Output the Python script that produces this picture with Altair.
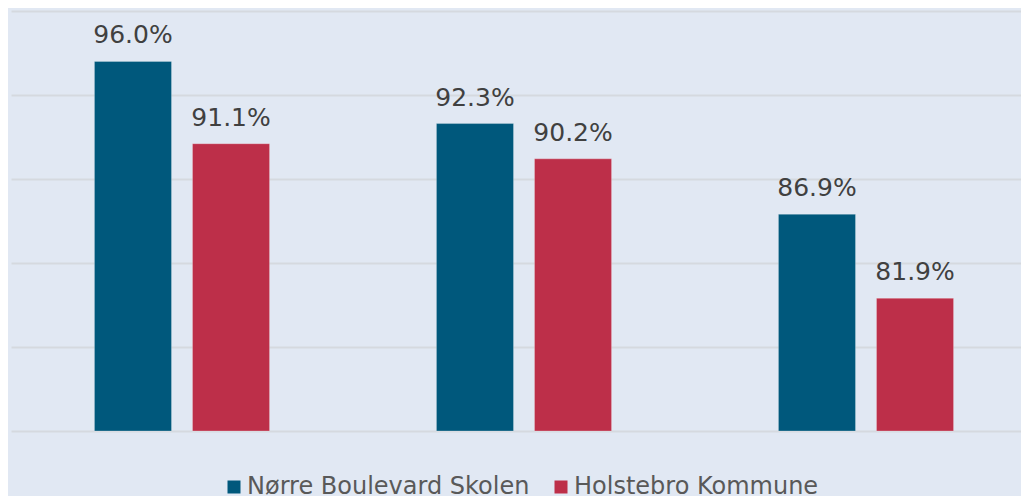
import altair as alt
import pandas as pd

groups = ["Gruppe 1", "Gruppe 2", "Gruppe 3"]
series = ["Nørre Boulevard Skolen", "Holstebro Kommune"]
school = [96.0, 92.3, 86.9]
kommune = [91.1, 90.2, 81.9]
colors = ["#00587C", "#BD2F49"]

rows = []
for g, a, b in zip(groups, school, kommune):
    rows.append({"group": g, "series": series[0], "value": a, "label": f"{a:.1f}%"})
    rows.append({"group": g, "series": series[1], "value": b, "label": f"{b:.1f}%"})
df = pd.DataFrame(rows)

FONT = "DejaVu Sans"

x = alt.X("group:N", sort=groups, axis=None,
          scale=alt.Scale(paddingInner=0.488, paddingOuter=0.244, range=[0, 1026]))
xo = alt.XOffset("series:N", sort=series,
                 scale=alt.Scale(paddingInner=0.214, paddingOuter=0))
y = alt.Y("value:Q", title=None,
          scale=alt.Scale(domain=[74, 99], zero=False, nice=False),
          axis=alt.Axis(values=[74, 79, 84, 89, 94, 99], labels=False, ticks=False,
                        domain=False, grid=True, gridColor="#D5D9DF", gridWidth=2))

base = alt.Chart(df)

bars = base.mark_bar(stroke="#FFFFFF", strokeOpacity=0.25, strokeWidth=1).encode(
    x=x, xOffset=xo, y=y, y2=alt.datum(74),
    color=alt.Color("series:N", sort=series,
                    scale=alt.Scale(domain=series, range=colors),
                    legend=alt.Legend(title=None, orient="none", direction="horizontal",
                                      legendX=211, legendY=464,
                                      symbolType="square", symbolSize=169,
                                      symbolStrokeWidth=0, labelFontSize=24,
                                      labelFont=FONT, labelColor="#595959",
                                      labelLimit=400,
                                      labelOffset=1, columnPadding=19)),
)

text = base.mark_text(font=FONT, fontSize=25, color="#404040",
                      baseline="alphabetic", dy=-18).encode(
    x=x, xOffset=xo, y=y, text="label:N"
)

chart = (bars + text).properties(
    width=1010, height=420,
    background="#E1E8F3",
    padding={"left": 3, "top": 3, "right": 0, "bottom": 0},
).configure_view(stroke=None, fill="#E1E8F3")

chart.save("out.html", embed_options={"renderer": "svg", "actions": False})
